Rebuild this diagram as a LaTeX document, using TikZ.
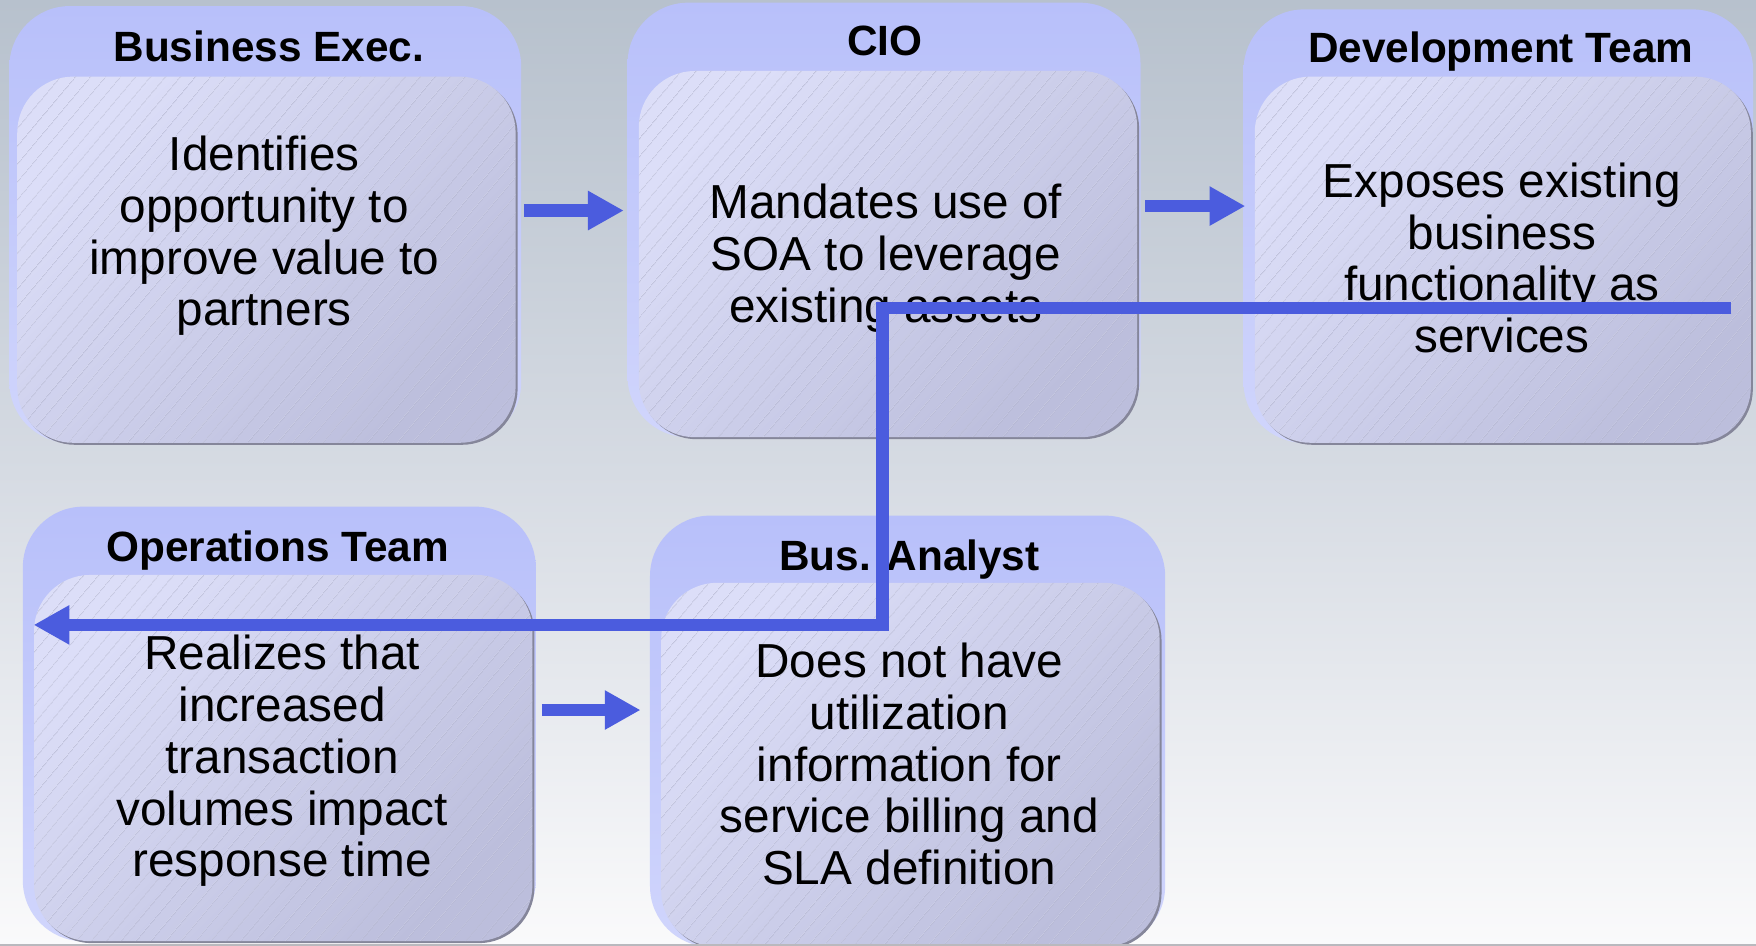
\documentclass[tikz,border=0pt]{standalone}
\usepackage{fontspec}
\setmainfont{Liberation Sans}
\usetikzlibrary{arrows.meta,shadows,patterns.meta}
\definecolor{bgtop}{HTML}{B7C1CD}
\definecolor{bgmid}{HTML}{D6DBE3}
\definecolor{bgbot}{HTML}{FAFAFB}
\definecolor{outerA}{HTML}{B8C0FA}
\definecolor{outerB}{HTML}{D0D5FC}
\definecolor{innerA}{HTML}{DCDEF8}
\definecolor{innerB}{HTML}{BCBEDC}
\definecolor{hatchgray}{HTML}{B3B5CF}
\definecolor{boxshadow}{HTML}{85869A}
\definecolor{flowblue}{HTML}{4B5CDE}
\definecolor{bottomline}{HTML}{B9B9BE}
\tikzset{
  outerbox/.style={rectangle, rounded corners=27pt, inner sep=0pt, anchor=north west,
    top color=outerA, bottom color=outerB, draw=none},
  innerbox/.style={rectangle, rounded corners=25pt, inner sep=0pt, anchor=north west,
    top color=innerA, bottom color=innerB, shading angle=45,
    drop shadow={shadow xshift=0.9pt,shadow yshift=-0.9pt,fill=boxshadow,opacity=1},
    postaction={pattern={Lines[angle=50,distance=5.4pt,line width=0.3pt]},pattern color=hatchgray}},
  titletext/.style={font=\bfseries\fontsize{18.9}{22}\selectfont, anchor=base, inner sep=0pt},
  bodytext/.style={font=\fontsize{21.3}{23.15}\selectfont, align=center, anchor=base, inner sep=0pt},
  flow/.style={draw=flowblue, line width=5.6pt, -{Triangle[length=16pt,width=16.5pt]}},
}
\begin{document}
\begin{tikzpicture}[x=0.5pt,y=-0.5pt]
\useasboundingbox (0,0) rectangle (1568,844.7);
\clip (0,0) rectangle (1568,844.7);
\fill[top color=bgtop, bottom color=bgbot, middle color=bgmid] (0,0) rectangle (1568,844.7);

% Business Exec.
\node[outerbox, minimum width=228.5pt, minimum height=195pt] (beo) at (8,5) {};
\node[innerbox, minimum width=222.5pt, minimum height=163.5pt] (bei) at (15,68) {};
% CIO
\node[outerbox, minimum width=229pt, minimum height=194pt] (cioo) at (560,2) {};
\node[innerbox, minimum width=222.5pt, minimum height=163.5pt] (cioi) at (570,63) {};
% Development Team
\node[outerbox, minimum width=227.5pt, minimum height=193.5pt] (devo) at (1110,8) {};
\node[innerbox, minimum width=221.5pt, minimum height=163.5pt] (devi) at (1120,68) {};
% Operations Team
\node[outerbox, minimum width=229pt, minimum height=194pt] (opso) at (20,452) {};
\node[innerbox, minimum width=222.5pt, minimum height=163.5pt] (opsi) at (30,513) {};
% Bus. Analyst
\node[outerbox, minimum width=230pt, minimum height=192.5pt] (bao) at (580,460) {};
\node[innerbox, minimum width=222.5pt, minimum height=162.5pt] (bai) at (590,520) {};

% titles
\node[titletext] (bet) at (240,55) {Business Exec.};
\node[titletext] (ciot) at (790,50) {CIO};
\node[titletext] (devt) at (1340,56) {Development Team};
\node[titletext] (opst) at (248,501) {Operations Team};
\node[titletext] (bat) at (812,509) {Bus. Analyst};

% bodies (anchor = baseline of last line)
\node[bodytext] (beb) at (236,291) {Identifies\\opportunity to\\improve value to\\partners};
\node[bodytext] (ciob) at (791,288) {Mandates use of\\SOA to leverage\\existing assets};
\node[bodytext] (devb) at (1341,315) {Exposes existing\\business\\functionality as\\services};
\node[bodytext] (opsb) at (252,783) {Realizes that\\increased\\transaction\\volumes impact\\response time};
\node[bodytext] (bab) at (812,790) {Does not have\\utilization\\information for\\service billing and\\SLA definition};

% arrows between boxes
\coordinate (a1) at (0,188);
\coordinate (a2) at (0,184);
\coordinate (a3) at (0,634);
\draw[flow, shorten <=1pt, shorten >=1.5pt] (beo.east |- a1) -- (cioo.west |- a1);
\draw[flow, shorten <=2pt, shorten >=-1pt] (cioo.east |- a2) -- (devo.west |- a2);
\draw[flow, shorten <=2.5pt, shorten >=4pt] (opso.east |- a3) -- (bao.west |- a3);

% long connector
\coordinate (ls) at (1546,275);
\coordinate (lk) at (788,558);
\coordinate (le) at (30,558);
\draw[flow, line join=miter] (ls) -| (lk) -- (le);

\fill[bottomline] (0,842.5) rectangle (1568,844.7);
\end{tikzpicture}
\end{document}
